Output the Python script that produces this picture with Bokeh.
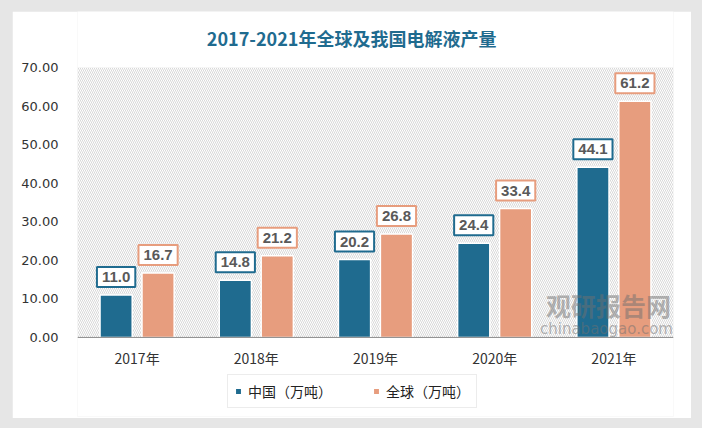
from bokeh.plotting import figure
from bokeh.layouts import column
from bokeh.models import (ColumnDataSource, FactorRange, BoxAnnotation, Legend,
                          LegendItem, NumeralTickFormatter, Range1d, Span)
from bokeh.transform import dodge
from bokeh.core.properties import value
from bokeh.embed import file_html
from bokeh.resources import INLINE

# ---- data ----
years = ["2017年", "2018年", "2019年", "2020年", "2021年"]
china = [11.0, 14.8, 20.2, 24.4, 44.1]
world = [16.7, 21.2, 26.8, 33.4, 61.2]
series_names = ["中国（万吨）", "全球（万吨）"]
title_text = "2017-2021年全球及我国电解液产量"
y_ticks = [0, 10, 20, 30, 40, 50, 60, 70]
y_max = 70
watermark_cn = "观研报告网"
watermark_en = "chinabaogao.com"

C_CHINA = "#1F6B8F"
C_WORLD = "#E79D7E"

src = ColumnDataSource(dict(
    year=years, china=china, world=world, base=[0] * len(years),
    china_lbl=[f"{v:.1f}" for v in china],
    world_lbl=[f"{v:.1f}" for v in world],
))

# frame spans the whole card; the plotted area (0..70) is marked by the hatch box,
# title and legend are drawn inside the frame around it
p = figure(x_range=FactorRange(factors=years, range_padding=0),
           y_range=Range1d(-20.5, 84.5),
           width=679, height=407, output_backend="svg", toolbar_location=None,
           min_border_left=65, min_border_right=18, min_border_top=0,
           min_border_bottom=2, margin=(11, 11, 10, 12))
p.outline_line_color = None
p.xgrid.grid_line_color = None
p.ygrid.grid_line_color = None
p.border_fill_color = "white"
p.xaxis.visible = False

# hatched plot background (0..70 only)
p.add_layout(BoxAnnotation(bottom=0, top=y_max, fill_alpha=0, line_color=None,
                           hatch_pattern="\\", hatch_color="#d8d8d8", hatch_scale=4,
                           hatch_weight=1, level="underlay"))
# x axis baseline
p.add_layout(Span(location=0, dimension="width", line_color="#8c8c8c", line_width=1))

off = 0.176
bw = 0.27
r1 = p.vbar(x=dodge("year", -off, range=p.x_range), top="china", width=bw,
            source=src, fill_color=C_CHINA, line_color="white", line_width=1.5)
r2 = p.vbar(x=dodge("year", off, range=p.x_range), top="world", width=bw,
            source=src, fill_color=C_WORLD, line_color="white", line_width=1.5)

for col, lbl, c in (("china", "china_lbl", C_CHINA), ("world", "world_lbl", C_WORLD)):
    p.text(x=dodge("year", -off if col == "china" else off, range=p.x_range),
           y=col, text=lbl, source=src, text_align="center", text_baseline="middle",
           y_offset=-18, text_font=value("Liberation Sans"), text_font_style="bold",
           text_font_size="15px", text_color="#595959",
           background_fill_color="white", border_line_color=c,
           border_line_width=2, padding=5)

# category labels (x axis)
p.text(x="year", y="base", text="year", source=src, text_align="center",
       text_baseline="middle", y_offset=21, text_font=value("Noto Sans CJK SC"),
       text_font_size="14px", text_color="#333333")

# title
p.text(x=[2.3], y=[y_max], text=[title_text], text_align="center",
       text_baseline="middle", y_offset=-29, text_font=value("Noto Sans CJK SC"),
       text_font_style="bold", text_font_size="18px", text_color=C_CHINA)

# watermark
p.text(x=[3.93], y=[8.3], text=[watermark_cn], text_align="left", text_baseline="middle",
       text_font=value("Noto Sans CJK SC"), text_font_style="bold",
       text_font_size="25px", text_color="#707070", text_alpha=0.5)
p.text(x=[3.88], y=[2.3], text=[watermark_en], text_align="left", text_baseline="middle",
       text_font=value("DejaVu Sans"), text_font_size="15px",
       text_color="#707070", text_alpha=0.5)

# y axis
p.yaxis.ticker = y_ticks
p.yaxis.formatter = NumeralTickFormatter(format="0.00")
p.yaxis.axis_line_color = None
p.yaxis.major_tick_line_color = None
p.yaxis.minor_tick_line_color = None
p.yaxis.major_label_standoff = 13
p.yaxis.major_label_text_font = "DejaVu Sans"
p.yaxis.major_label_text_font_size = "13px"
p.yaxis.major_label_text_color = "#333333"

# legend
legend = Legend(items=[LegendItem(label=series_names[0], renderers=[r1]),
                       LegendItem(label=series_names[1], renderers=[r2])],
                orientation="horizontal", location=(150, 8),
                glyph_width=8, glyph_height=8, label_height=12, label_standoff=6,
                spacing=40, padding=6, margin=0,
                label_text_font="Noto Sans CJK SC", label_text_font_size="14px",
                label_text_color="#222222", border_line_color="#d9d9d9",
                border_line_width=1, background_fill_color="white")
p.add_layout(legend, "center")

page = column(p, styles={"background-color": "#e6e6e6"})
open("out.html", "w").write(file_html(page, INLINE))
